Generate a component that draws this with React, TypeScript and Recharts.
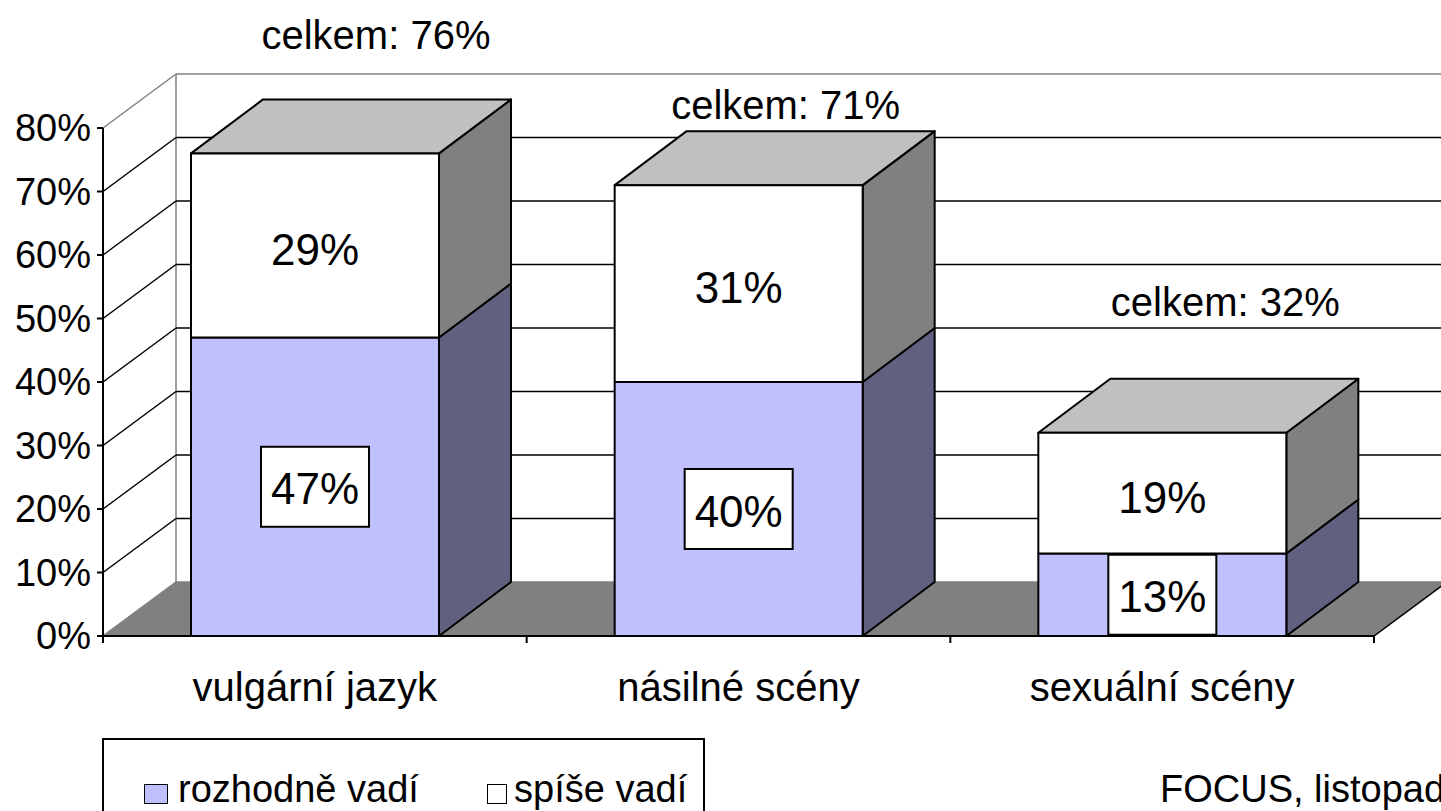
import React from "react";
import {
  BarChart,
  Bar,
  XAxis,
  YAxis,
  CartesianGrid,
  LabelList,
} from "recharts";

const categories = ["vulgární jazyk", "násilné scény", "sexuální scény"];
const definitelyBothers = [47, 40, 13];
const ratherBothers = [29, 31, 19];
const totals = [76, 71, 32];
const yTicks = [0, 10, 20, 30, 40, 50, 60, 70, 80];

const seriesNames = ["rozhodně vadí", "spíše vadí"];

const data = categories.map((name, i) => ({
  name,
  definitely: definitelyBothers[i],
  rather: ratherBothers[i],
  total: totals[i],
}));

const FONT = '"Liberation Sans", Arial, sans-serif';

// 3D look: depth offset of the walls and of the boxes
const WALL_DX = 73;
const WALL_DY = -54;
const BAR_DX = 72;
const BAR_DY = -54;

// where Excel put the "celkem" labels, relative to the front top of each bar
const totalLabelShift = [
  [61, -118],
  [47, -80],
  [63, -131],
];

const Box3D = (props: any) => {
  const { x, y, width, height, front, side, showTop } = props;
  if (x == null || y == null) return null;
  const r = x + width;
  const b = y + height;
  return (
    <g stroke="#000" strokeWidth={2} strokeLinejoin="round">
      <polygon
        points={`${r},${y} ${r + BAR_DX},${y + BAR_DY} ${r + BAR_DX},${b + BAR_DY} ${r},${b}`}
        fill={side}
      />
      {showTop && (
        <polygon
          points={`${x},${y} ${x + BAR_DX},${y + BAR_DY} ${r + BAR_DX},${y + BAR_DY} ${r},${y}`}
          fill="#C0C0C0"
        />
      )}
      <rect x={x} y={y} width={width} height={height} fill={front} />
    </g>
  );
};

const GridLine = (p: any) => {
  const pts: number[] = p.horizontalPoints || [];
  const top = pts.length ? Math.min(...pts) : p.y;
  const bottom = pts.length ? Math.max(...pts) : p.y + p.height;
  const { x1, x2, y1 } = p;
  const isTop = Math.abs(y1 - top) < 0.5;
  const isBottom = Math.abs(y1 - bottom) < 0.5;
  if (isBottom) {
    return (
      <g key={p.key}>
        <polygon
          points={`${x1},${y1} ${x2},${y1} ${x2 + WALL_DX},${y1 + WALL_DY} ${x1 + WALL_DX},${y1 + WALL_DY}`}
          fill="#808080"
          stroke="#808080"
          strokeWidth={1.5}
        />
        <line
          x1={x2}
          y1={y1}
          x2={x2 + WALL_DX}
          y2={y1 + WALL_DY}
          stroke="#000"
          strokeWidth={1.5}
        />
        <line
          x1={x1 + WALL_DX}
          y1={top + WALL_DY}
          x2={x1 + WALL_DX}
          y2={bottom + WALL_DY}
          stroke="#808080"
          strokeWidth={1.5}
        />
      </g>
    );
  }
  const color = isTop ? "#808080" : "#000";
  return (
    <g key={p.key} stroke={color} strokeWidth={1.5} fill="none">
      <line x1={x1} y1={y1} x2={x1 + WALL_DX} y2={y1 + WALL_DY} />
      <line
        x1={x1 + WALL_DX}
        y1={y1 + WALL_DY}
        x2={x2 + WALL_DX}
        y2={y1 + WALL_DY}
      />
    </g>
  );
};

const CategoryTick = (props: any) => {
  const { x, y, payload, index, width, visibleTicksCount } = props;
  let band = width / visibleTicksCount;
  if (!Number.isFinite(band) || band <= 0) band = 2 * (payload.offset || 0);
  const left = x - band / 2;
  const right = x + band / 2;
  return (
    <g>
      <line x1={left} y1={y} x2={left} y2={y + 7} stroke="#000" strokeWidth={2} />
      {index === visibleTicksCount - 1 && (
        <line x1={right} y1={y} x2={right} y2={y + 7} stroke="#000" strokeWidth={2} />
      )}
      <text
        x={x}
        y={y + 51}
        textAnchor="middle"
        dominantBaseline="central"
        fontFamily={FONT}
        fontSize={40}
        fill="#000"
      >
        {payload.value}
      </text>
    </g>
  );
};

const BoxedLabel = (props: any) => {
  const { x, y, width, height, value } = props;
  const cx = x + width / 2;
  const cy = y + height / 2;
  return (
    <g>
      <rect
        x={cx - 54}
        y={cy - 40}
        width={108}
        height={80}
        fill="#fff"
        stroke="#000"
        strokeWidth={2}
      />
      <text
        x={cx}
        y={cy + 2}
        textAnchor="middle"
        dominantBaseline="central"
        fontFamily={FONT}
        fontSize={44}
        fill="#000"
      >
        {value}%
      </text>
    </g>
  );
};

const PlainLabel = (props: any) => {
  const { x, y, width, height, value } = props;
  return (
    <text
      x={x + width / 2}
      y={y + height / 2 + 4}
      textAnchor="middle"
      dominantBaseline="central"
      fontFamily={FONT}
      fontSize={44}
      fill="#000"
    >
      {value}%
    </text>
  );
};

const TotalLabel = (props: any) => {
  const { x, y, width, value, index } = props;
  const [sx, sy] = totalLabelShift[index] || [50, -100];
  return (
    <text
      x={x + width / 2 + sx}
      y={y + sy}
      textAnchor="middle"
      dominantBaseline="central"
      fontFamily={FONT}
      fontSize={40}
      fill="#000"
    >
      celkem: {value}%
    </text>
  );
};

const legendText: React.CSSProperties = {
  fontFamily: FONT,
  fontSize: 38,
  color: "#000",
  position: "absolute",
  top: 767,
  lineHeight: "44px",
  whiteSpace: "nowrap",
};

export default function App() {
  return (
    <div
      style={{
        position: "absolute",
        left: 0,
        top: 0,
        width: 1441,
        height: 811,
        overflow: "hidden",
        background: "#fff",
      }}
    >
      <BarChart
        width={1441}
        height={811}
        data={data}
        margin={{ top: 128, right: 67, bottom: 115, left: 0 }}
        barSize={248}
      >
        <CartesianGrid vertical={false} horizontal={GridLine} />
        <XAxis
          dataKey="name"
          height={60}
          tickSize={0}
          tickMargin={0}
          tickLine={false}
          axisLine={{ stroke: "#000", strokeWidth: 2 }}
          tick={<CategoryTick />}
          interval={0}
        />
        <YAxis
          width={103}
          domain={[0, 80]}
          ticks={yTicks}
          tickFormatter={(v: number) => `${v}%`}
          tickSize={6}
          tickMargin={6}
          axisLine={{ stroke: "#000", strokeWidth: 2 }}
          tickLine={{ stroke: "#000", strokeWidth: 2 }}
          tick={{ fontSize: 38, fill: "#000", fontFamily: FONT }}
          interval={0}
        />
        <Bar
          dataKey="definitely"
          name={seriesNames[0]}
          stackId="a"
          isAnimationActive={false}
          shape={(p: any) => (
            <Box3D {...p} front="#C0C0FF" side="#606080" showTop={false} />
          )}
        >
          <LabelList dataKey="definitely" content={<BoxedLabel />} />
        </Bar>
        <Bar
          dataKey="rather"
          name={seriesNames[1]}
          stackId="a"
          isAnimationActive={false}
          shape={(p: any) => (
            <Box3D {...p} front="#FFFFFF" side="#808080" showTop={true} />
          )}
        >
          <LabelList dataKey="rather" content={<PlainLabel />} />
          <LabelList dataKey="total" content={<TotalLabel />} />
        </Bar>
      </BarChart>

      <div
        style={{
          position: "absolute",
          left: 102,
          top: 738,
          width: 603,
          height: 120,
          border: "2px solid #000",
          boxSizing: "border-box",
        }}
      />
      <div
        style={{
          position: "absolute",
          left: 144,
          top: 784,
          width: 22,
          height: 18,
          background: "#C0C0FF",
          border: "1.5px solid #000",
        }}
      />
      <div style={{ ...legendText, left: 178 }}>{seriesNames[0]}</div>
      <div
        style={{
          position: "absolute",
          left: 487,
          top: 784,
          width: 18,
          height: 18,
          background: "#fff",
          border: "1.5px solid #000",
        }}
      />
      <div style={{ ...legendText, left: 514 }}>{seriesNames[1]}</div>
      <div style={{ ...legendText, left: 1160 }}>FOCUS, listopad</div>
    </div>
  );
}
